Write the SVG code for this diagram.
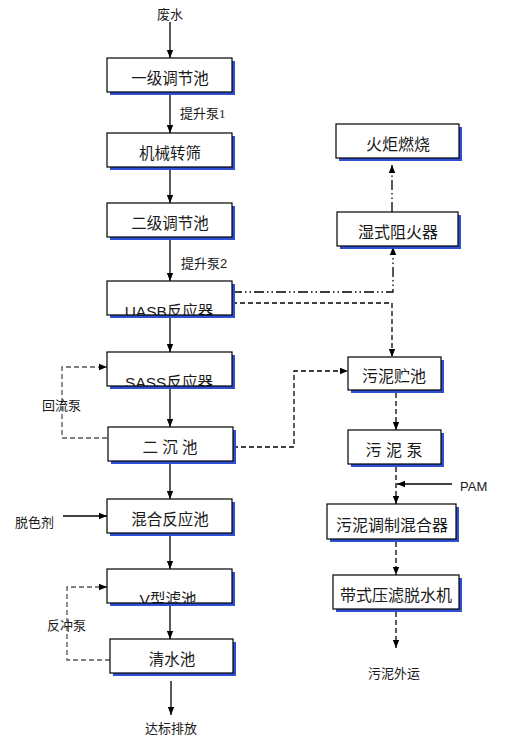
<svg xmlns="http://www.w3.org/2000/svg" width="508" height="744" viewBox="0 0 508 744">
<style>
.sh{fill:#2f50d2}
.bx{fill:#fff;stroke:#000;stroke-width:1.2}
.fl{fill:#fff}
.ol{fill:none;stroke:#000;stroke-width:1.2}
.t{font-family:"Liberation Sans","Noto Sans CJK SC",sans-serif;font-size:15.5px;text-anchor:middle;fill:#1a1a1a}
.tr{font-size:16px}
.lb{font-family:"Liberation Serif","Noto Sans CJK SC",serif;font-size:13px;fill:#1a1a1a}
.ls{font-family:"Liberation Sans","Noto Sans CJK SC",sans-serif;font-size:13px;fill:#1a1a1a}
.c{fill:none;stroke:#000;stroke-width:1.3}
.s{marker-end:url(#ah)}
.d{stroke-dasharray:5 3}
.dd{stroke-dasharray:10 3 1.5 3 1.5 3}
.g{stroke:#555}
</style>
<defs>
<marker id="ah" viewBox="0 0 10 10" refX="10" refY="5" markerWidth="8" markerHeight="8" markerUnits="userSpaceOnUse" orient="auto">
<path d="M0,1 L10,5 L0,9 z" fill="#000"/>
</marker>
<clipPath id="cp4"><rect x="107" y="281" width="125" height="34"/></clipPath>
<clipPath id="cp5"><rect x="107" y="352" width="125" height="34"/></clipPath>
<clipPath id="cp8"><rect x="107" y="569" width="125" height="34"/></clipPath>
</defs>

<g id="connectors">
<line class="c s" x1="170" y1="22" x2="170" y2="58"/>
<line class="c s" x1="170" y1="93" x2="170" y2="133"/>
<line class="c s" x1="170" y1="167" x2="170" y2="203"/>
<line class="c s" x1="170" y1="237" x2="170" y2="281"/>
<line class="c s" x1="170" y1="315" x2="170" y2="352"/>
<line class="c s" x1="170" y1="386" x2="170" y2="427"/>
<line class="c s" x1="170" y1="461" x2="170" y2="499"/>
<line class="c s" x1="170" y1="533" x2="170" y2="569"/>
<line class="c s" x1="170" y1="603" x2="170" y2="639"/>
<line class="c s" x1="171" y1="681" x2="171" y2="715"/>
<line class="c s" x1="63" y1="516" x2="107" y2="516"/>
<path class="c s d g" d="M107,438 H62 V367 H107"/>
<path class="c s d g" d="M110,660 H67 V587 H107"/>
<path class="c s d" d="M233,447 H294 V371 H348"/>
<path class="c s dd" d="M232,292 H393 V247"/>
<path class="c s d" d="M232,303 H392 V357"/>
<line class="c s dd" x1="392" y1="212" x2="392" y2="165"/>
<line class="c s d" x1="396" y1="393" x2="396" y2="430"/>
<line class="c s d" x1="396" y1="467" x2="396" y2="504"/>
<line class="c s" x1="452" y1="484" x2="397" y2="484"/>
<line class="c s d" x1="396" y1="542" x2="396" y2="575"/>
<line class="c s d" x1="396" y1="612" x2="396" y2="648"/>
</g>

<g id="n1"><rect class="sh" x="110" y="61" width="125" height="34"/><rect class="bx" x="107" y="58" width="125" height="34"/><text class="t" x="170" y="84">一级调节池</text></g>
<g id="n2"><rect class="sh" x="110" y="136" width="125" height="34"/><rect class="bx" x="107" y="133" width="125" height="34"/><text class="t" x="170" y="159">机械转筛</text></g>
<g id="n3"><rect class="sh" x="110" y="206" width="125" height="34"/><rect class="bx" x="107" y="203" width="125" height="34"/><text class="t" x="170" y="229">二级调节池</text></g>
<g id="n4"><rect class="sh" x="110" y="284" width="125" height="34"/><rect class="fl" x="107" y="281" width="125" height="34"/><text class="t" x="169" y="317" clip-path="url(#cp4)">UASB反应器</text><rect class="ol" x="107" y="281" width="125" height="34"/></g>
<g id="n5"><rect class="sh" x="110" y="355" width="125" height="34"/><rect class="fl" x="107" y="352" width="125" height="34"/><text class="t" x="169" y="388" clip-path="url(#cp5)">SASS反应器</text><rect class="ol" x="107" y="352" width="125" height="34"/></g>
<g id="n6"><rect class="sh" x="111" y="430" width="125" height="34"/><rect class="bx" x="108" y="427" width="125" height="34"/><text class="t" x="170" y="453">二 沉 池</text></g>
<g id="n7"><rect class="sh" x="110" y="502" width="125" height="34"/><rect class="bx" x="107" y="499" width="125" height="34"/><text class="t" x="170" y="525">混合反应池</text></g>
<g id="n8"><rect class="sh" x="110" y="572" width="125" height="34"/><rect class="fl" x="107" y="569" width="125" height="34"/><text class="t" x="168" y="605" clip-path="url(#cp8)">V型滤池</text><rect class="ol" x="107" y="569" width="125" height="34"/></g>
<g id="n9"><rect class="sh" x="113" y="642" width="123" height="34"/><rect class="bx" x="110" y="639" width="123" height="34"/><text class="t" x="172" y="665">清水池</text></g>

<g id="r1"><rect class="sh" x="339" y="127" width="123" height="34"/><rect class="bx" x="336" y="124" width="123" height="34"/><text class="t tr" x="398" y="150">火炬燃烧</text></g>
<g id="r2"><rect class="sh" x="340" y="215" width="121" height="34"/><rect class="bx" x="337" y="212" width="121" height="34"/><text class="t tr" x="398" y="238">湿式阻火器</text></g>
<g id="r3"><rect class="sh" x="351" y="360" width="93" height="33"/><rect class="bx" x="348" y="357" width="93" height="33"/><text class="t tr" x="394" y="382">污泥贮池</text></g>
<g id="r4"><rect class="sh" x="351" y="433" width="93" height="34"/><rect class="bx" x="348" y="430" width="93" height="34"/><text class="t tr" x="394" y="456">污 泥 泵</text></g>
<g id="r5"><rect class="sh" x="330" y="507" width="129" height="35"/><rect class="bx" x="327" y="504" width="129" height="35"/><text class="t tr" x="392" y="531">污泥调制混合器</text></g>
<g id="r6"><rect class="sh" x="336" y="578" width="126" height="34"/><rect class="bx" x="333" y="575" width="126" height="34"/><text class="t tr" x="396" y="601">带式压滤脱水机</text></g>

<g id="labels">
<text class="lb" x="170" y="19" text-anchor="middle">废水</text>
<text class="lb" x="180" y="118">提升泵1</text>
<text class="ls" x="181" y="268">提升泵2</text>
<text class="ls" x="42" y="410">回流泵</text>
<text class="ls" x="47" y="630">反冲泵</text>
<text class="ls" x="15" y="527">脱色剂</text>
<text class="ls" x="171" y="733" text-anchor="middle" font-size="13.5">达标排放</text>
<text class="lb" x="394" y="678" text-anchor="middle" font-size="14">污泥外运</text>
<text class="ls" x="460" y="491" font-size="15">PAM</text>
</g>
</svg>
